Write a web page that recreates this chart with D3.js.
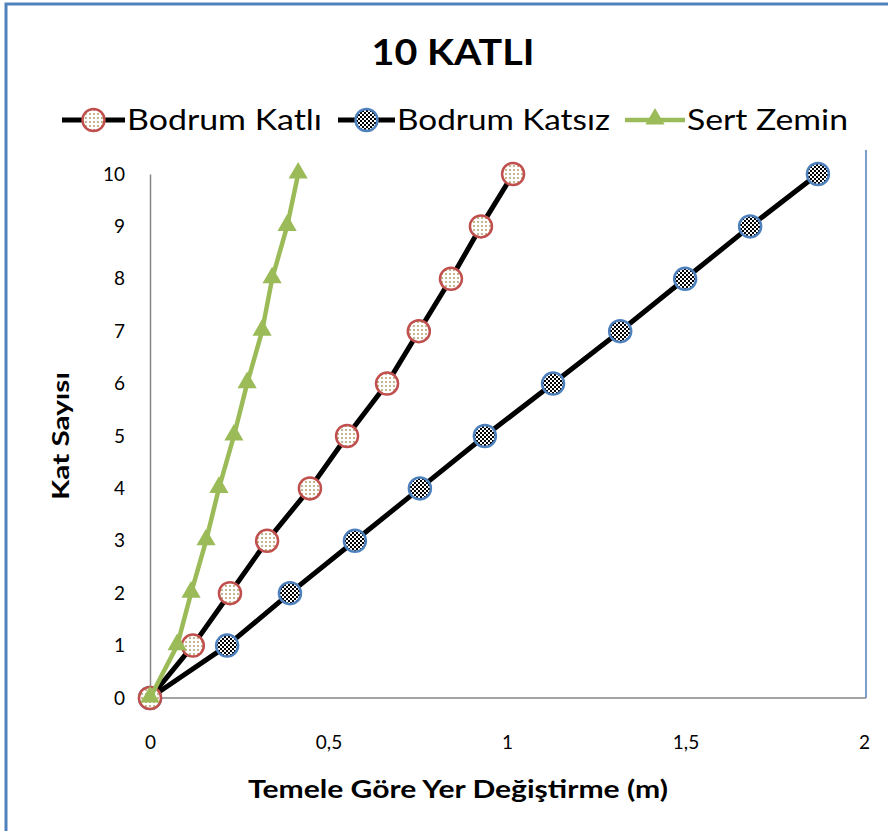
<!DOCTYPE html>
<html>
<head>
<meta charset="utf-8">
<script src="https://cdn.jsdelivr.net/npm/d3@7"></script>
<style>
  html, body { margin: 0; padding: 0; background: #fff; }
  svg { display: block; }
  text { font-family: Lato, "Open Sans", sans-serif; }
</style>
</head>
<body>
<script>
// Floor number (Kat) for every point
const floors = [0, 1, 2, 3, 4, 5, 6, 7, 8, 9, 10];
// Displacement relative to foundation (m) per floor
const bodrumKatli  = [0, 0.12, 0.224, 0.328, 0.448, 0.552, 0.664, 0.753, 0.843, 0.927, 1.017];
const bodrumKatsiz = [0, 0.216, 0.392, 0.574, 0.756, 0.938, 1.129, 1.317, 1.499, 1.681, 1.871];
const sertZemin    = [0, 0.076, 0.115, 0.157, 0.193, 0.235, 0.272, 0.314, 0.342, 0.384, 0.415];
const seriesNames  = ["Bodrum Katlı", "Bodrum Katsız", "Sert Zemin"];
const xTicks = [0, 0.5, 1, 1.5, 2];
const yTicks = [0, 1, 2, 3, 4, 5, 6, 7, 8, 9, 10];

const W = 888, H = 831;
const svg = d3.select("body").append("svg").attr("width", W).attr("height", H);

// fills for the circle markers
const defs = svg.append("defs");
const dots = defs.append("pattern").attr("id", "dots")
  .attr("patternUnits", "userSpaceOnUse").attr("width", 4).attr("height", 4);
dots.append("rect").attr("width", 4).attr("height", 4).attr("fill", "#fff");
dots.append("rect").attr("x", 1).attr("y", 1).attr("width", 2).attr("height", 2).attr("fill", "#c6b68e");
const checks = defs.append("pattern").attr("id", "checks")
  .attr("patternUnits", "userSpaceOnUse").attr("width", 4).attr("height", 4);
checks.append("rect").attr("width", 4).attr("height", 4).attr("fill", "#fff");
checks.append("rect").attr("width", 2).attr("height", 2).attr("fill", "#000");
checks.append("rect").attr("x", 2).attr("y", 2).attr("width", 2).attr("height", 2).attr("fill", "#000");

// chart frame
svg.append("rect").attr("x", 6).attr("y", 4).attr("width", W + 20).attr("height", H + 20)
  .attr("fill", "none").attr("stroke", "#4f81bd").attr("stroke-width", 3);

const x = d3.scaleLinear().domain([0, 2]).range([150, 864]);
const y = d3.scaleLinear().domain([0, 10]).range([698, 174]);

// title
svg.append("text").attr("x", 453).attr("y", 65).attr("text-anchor", "middle")
  .attr("font-size", 37).attr("font-weight", "bold").attr("fill", "#000")
  .attr("textLength", 163).attr("lengthAdjust", "spacingAndGlyphs")
  .text("10 KATLI");

// plot area right edge
svg.append("line").attr("x1", 866).attr("x2", 866).attr("y1", 150).attr("y2", 698)
  .attr("stroke", "#4f81bd").attr("stroke-width", 1.5);

// axes
const xAxis = svg.append("g").attr("transform", "translate(0,698)")
  .call(d3.axisBottom(x).tickValues(xTicks).tickSize(0).tickPadding(38)
    .tickFormat(d => String(d).replace(".", ",")));
xAxis.select(".domain").attr("stroke", "#868686").attr("stroke-width", 1.5)
  .attr("d", "M150,0H866");
xAxis.selectAll("text").attr("font-size", 19).attr("fill", "#000")
  .attr("font-family", "Lato, sans-serif");

const yAxis = svg.append("g").attr("transform", "translate(150,0)")
  .call(d3.axisLeft(y).tickValues(yTicks).tickSize(0).tickPadding(25));
yAxis.select(".domain").attr("stroke", "#868686").attr("stroke-width", 1.5);
yAxis.selectAll("text").attr("font-size", 19).attr("fill", "#000")
  .attr("font-family", "Lato, sans-serif");

// axis titles
svg.append("text").attr("transform", "translate(69,436) rotate(-90)")
  .attr("text-anchor", "middle").attr("font-size", 22).attr("font-weight", "bold")
  .attr("textLength", 128).attr("lengthAdjust", "spacingAndGlyphs")
  .text("Kat Sayısı");
svg.append("text").attr("x", 458).attr("y", 798).attr("text-anchor", "middle")
  .attr("font-size", 24).attr("font-weight", "bold")
  .attr("textLength", 420).attr("lengthAdjust", "spacingAndGlyphs")
  .text("Temele Göre Yer Değiştirme (m)");

const line = d3.line().x(d => x(d[0])).y(d => y(d[1]));
const toPts = vals => vals.map((v, i) => [v, floors[i]]);
const tri = d3.symbol().type(d3.symbolTriangle).size(160);

function drawCircleSeries(vals, stroke, fill) {
  const pts = toPts(vals);
  svg.append("path").attr("d", line(pts)).attr("fill", "none")
    .attr("stroke", "#000").attr("stroke-width", 5).attr("stroke-linejoin", "round");
  svg.append("g").selectAll("circle").data(pts).join("circle")
    .attr("cx", d => x(d[0])).attr("cy", d => y(d[1])).attr("r", 11)
    .attr("fill", fill).attr("stroke", stroke).attr("stroke-width", 2.5);
}
drawCircleSeries(bodrumKatsiz, "#4f81bd", "url(#checks)");
drawCircleSeries(bodrumKatli, "#c0504d", "url(#dots)");

const gPts = toPts(sertZemin);
svg.append("path").attr("d", line(gPts)).attr("fill", "none")
  .attr("stroke", "#9bbb59").attr("stroke-width", 4.5).attr("stroke-linejoin", "round");
svg.append("g").selectAll("path").data(gPts).join("path")
  .attr("transform", d => `translate(${x(d[0])},${y(d[1]) - 1})`)
  .attr("d", tri).attr("fill", "#9bbb59");

// legend
const legend = [
  { name: seriesNames[0], x0: 62, x1: 125, tx: 127, tw: 195, kind: "c", stroke: "#c0504d", fill: "url(#dots)" },
  { name: seriesNames[1], x0: 338, x1: 395, tx: 397, tw: 213, kind: "c", stroke: "#4f81bd", fill: "url(#checks)" },
  { name: seriesNames[2], x0: 625, x1: 685, tx: 687, tw: 161, kind: "t", stroke: "#9bbb59", fill: "#9bbb59" }
];
const lg = svg.append("g");
legend.forEach(it => {
  const cy = 120, cx = (it.x0 + it.x1) / 2;
  lg.append("line").attr("x1", it.x0).attr("x2", it.x1).attr("y1", cy).attr("y2", cy)
    .attr("stroke", it.kind === "c" ? "#000" : "#9bbb59").attr("stroke-width", it.kind === "c" ? 5 : 4.5);
  if (it.kind === "c") {
    lg.append("circle").attr("cx", cx).attr("cy", cy).attr("r", 11)
      .attr("fill", it.fill).attr("stroke", it.stroke).attr("stroke-width", 2.5);
  } else {
    lg.append("path").attr("transform", `translate(${cx},${cy - 1})`).attr("d", tri).attr("fill", it.fill);
  }
  lg.append("text").attr("x", it.tx).attr("y", cy + 10).attr("font-size", 28)
    .attr("textLength", it.tw).attr("lengthAdjust", "spacingAndGlyphs")
    .text(it.name);
});
</script>
</body>
</html>
